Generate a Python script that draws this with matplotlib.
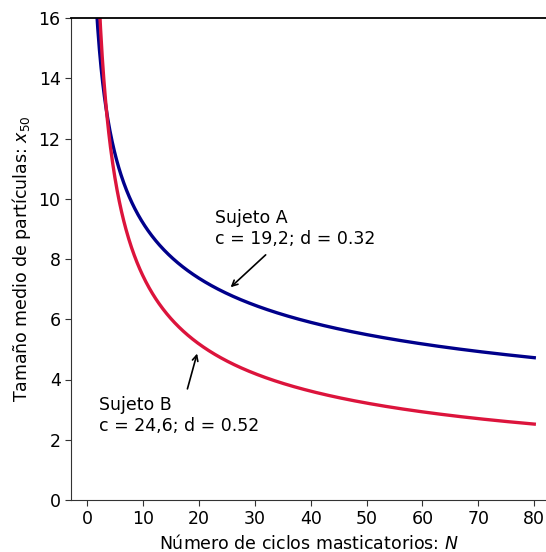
import numpy as np
import matplotlib.pyplot as plt

# modelo x50 = c * N^(-d), parametros tal como aparecen en la figura
sujetos = ["Sujeto A", "Sujeto B"]
c_vals = [19.2, 24.6]
d_vals = [0.32, 0.52]
etiquetas = ["Sujeto A\nc = 19,2; d = 0.32", "Sujeto B\nc = 24,6; d = 0.52"]
colores = ["#00008B", "#DC143C"]

x_ticks = [0, 10, 20, 30, 40, 50, 60, 70, 80]
y_ticks = [0, 2, 4, 6, 8, 10, 12, 14, 16]


def main() -> None:
    plt.rcParams["font.family"] = "DejaVu Sans"
    fig = plt.figure(figsize=(5.46, 5.52), dpi=100)
    ax = fig.add_axes([71 / 546, 52 / 552, 1 - 71 / 546, 482 / 552])

    N = np.linspace(1, 80, 800)
    for c, d, col in zip(c_vals, d_vals, colores):
        ax.plot(N, c * N ** (-d), color=col, lw=2.4)

    ax.set_xlim(-2.9, 82.1)
    ax.set_ylim(0, 16)
    ax.set_xticks(x_ticks)
    ax.set_yticks(y_ticks)
    ax.spines["right"].set_visible(False)
    for s in ["left", "bottom"]:
        ax.spines[s].set_color("#333333")
    ax.spines["top"].set_color("black")
    ax.spines["top"].set_linewidth(1.3)
    ax.tick_params(labelsize=12.5, direction="out", length=4, color="#333333")
    ax.set_xlabel("Número de ciclos masticatorios: $N$", fontsize=12.5)
    ax.set_ylabel("Tamaño medio de partículas: $x_{50}$", fontsize=12.5)

    # textos y flechas
    ax.text(22.9, 9.65, etiquetas[0], fontsize=12.5, ha="left", va="top")
    ax.annotate("", xy=(25.3, 7.0), xytext=(32.3, 8.2),
                arrowprops=dict(arrowstyle="->", color="black", lw=1.2))
    ax.text(2.1, 3.45, etiquetas[1], fontsize=12.5, ha="left", va="top")
    ax.annotate("", xy=(19.8, 4.95), xytext=(17.8, 3.6),
                arrowprops=dict(arrowstyle="->", color="black", lw=1.2))

    fig.savefig("out.png", dpi=100)


if __name__ == "__main__":
    main()
